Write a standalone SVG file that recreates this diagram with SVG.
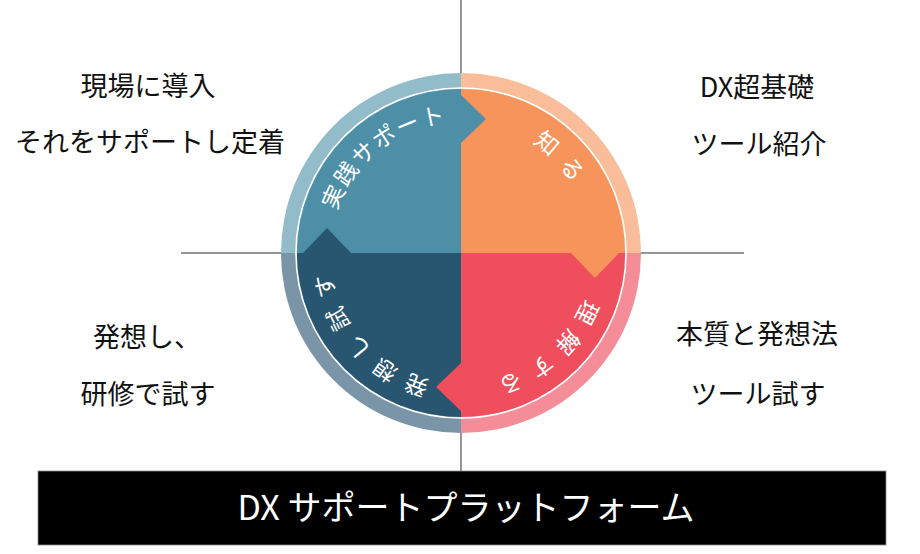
<svg xmlns="http://www.w3.org/2000/svg" xmlns:xlink="http://www.w3.org/1999/xlink" width="920" height="554" viewBox="0 0 920 554">
  <style>
    .axis { stroke: #2e2e2e; stroke-width: 1; fill: none; }
    .side { font-family: "Noto Sans CJK JP", "Liberation Sans", sans-serif; font-size: 27px; fill: #111; text-anchor: middle; }
    .arc { font-family: "Noto Sans CJK JP", "Liberation Sans", sans-serif; font-size: 23px; fill: #ffffff; }
    .bar { font-family: "Noto Sans CJK JP", "Liberation Sans", sans-serif; font-size: 34px; fill: #ffffff; text-anchor: middle; }
  </style>
  <defs>
    <path id="ring" d="M461,122 A131,131 0 1,1 461,384 A131,131 0 1,1 461,122"/>
  </defs>
  <rect width="920" height="554" fill="#ffffff"/>
  <g id="connectors">
    <line class="axis" x1="461" y1="0" x2="461" y2="471"/>
    <line class="axis" x1="181" y1="253" x2="744" y2="253"/>
  </g>
  <g id="cycle">
    <path d="M461,253 L281,253 A180,180 0 0,1 461,73 Z" fill="#93BCCB"/>
    <path d="M461,253 L461,73 A180,180 0 0,1 641,253 Z" fill="#F9BD99"/>
    <path d="M461,253 L641,253 A180,180 0 0,1 461,433 Z" fill="#F48D97"/>
    <path d="M461,253 L461,433 A180,180 0 0,1 281,253 Z" fill="#7B95A8"/>
    <circle cx="461" cy="253" r="165" fill="none" stroke="#ffffff" stroke-width="1.6"/>
    <g id="q-practice">
      <path d="M461,253 L297,253 A164,164 0 0,1 461,89 Z" fill="#4D8FA6"/>
    </g>
    <g id="q-know">
      <path d="M461,253 L461,89 A164,164 0 0,1 625,253 Z" fill="#F7945B"/>
    </g>
    <g id="q-understand">
      <path d="M461,253 L625,253 A164,164 0 0,1 461,417 Z" fill="#EF4F5C"/>
    </g>
    <g id="q-try">
      <path d="M461,253 L461,417 A164,164 0 0,1 297,253 Z" fill="#285570"/>
    </g>
    <polygon points="461,95 486,119 461,143" fill="#4D8FA6"/>
    <polygon points="571,253 595,278 619,253" fill="#F7945B"/>
    <polygon points="461,363 436,387 461,411" fill="#EF4F5C"/>
    <polygon points="303,253 327,228 351,253" fill="#285570"/>
    <text class="arc" letter-spacing="1.9"><textPath xlink:href="#ring" href="#ring" startOffset="659.8">実践サポート</textPath></text>
    <text class="arc" letter-spacing="10.8"><textPath xlink:href="#ring" href="#ring" startOffset="75.2">知る</textPath></text>
    <text class="arc" letter-spacing="10.2"><textPath xlink:href="#ring" href="#ring" startOffset="251.7">理解する</textPath></text>
    <text class="arc" letter-spacing="9.9"><textPath xlink:href="#ring" href="#ring" startOffset="442.1">発想し試す</textPath></text>
  </g>
  <g id="label-top-left">
    <text class="side" x="148" y="96">現場に導入</text>
    <text class="side" x="150" y="152">それをサポートし定着</text>
  </g>
  <g id="label-top-right">
    <text class="side" x="757" y="97">DX超基礎</text>
    <text class="side" x="759" y="154">ツール紹介</text>
  </g>
  <g id="label-bottom-left">
    <text class="side" x="147" y="347">発想し、</text>
    <text class="side" x="148" y="404">研修で試す</text>
  </g>
  <g id="label-bottom-right">
    <text class="side" x="757" y="344">本質と発想法</text>
    <text class="side" x="758" y="404">ツール試す</text>
  </g>
  <g id="platform">
    <rect x="38" y="471" width="848" height="74" fill="#000000" stroke="#8a8a8a" stroke-width="0.8"/>
    <text class="bar" x="466" y="520">DX サポートプラットフォーム</text>
  </g>
</svg>
